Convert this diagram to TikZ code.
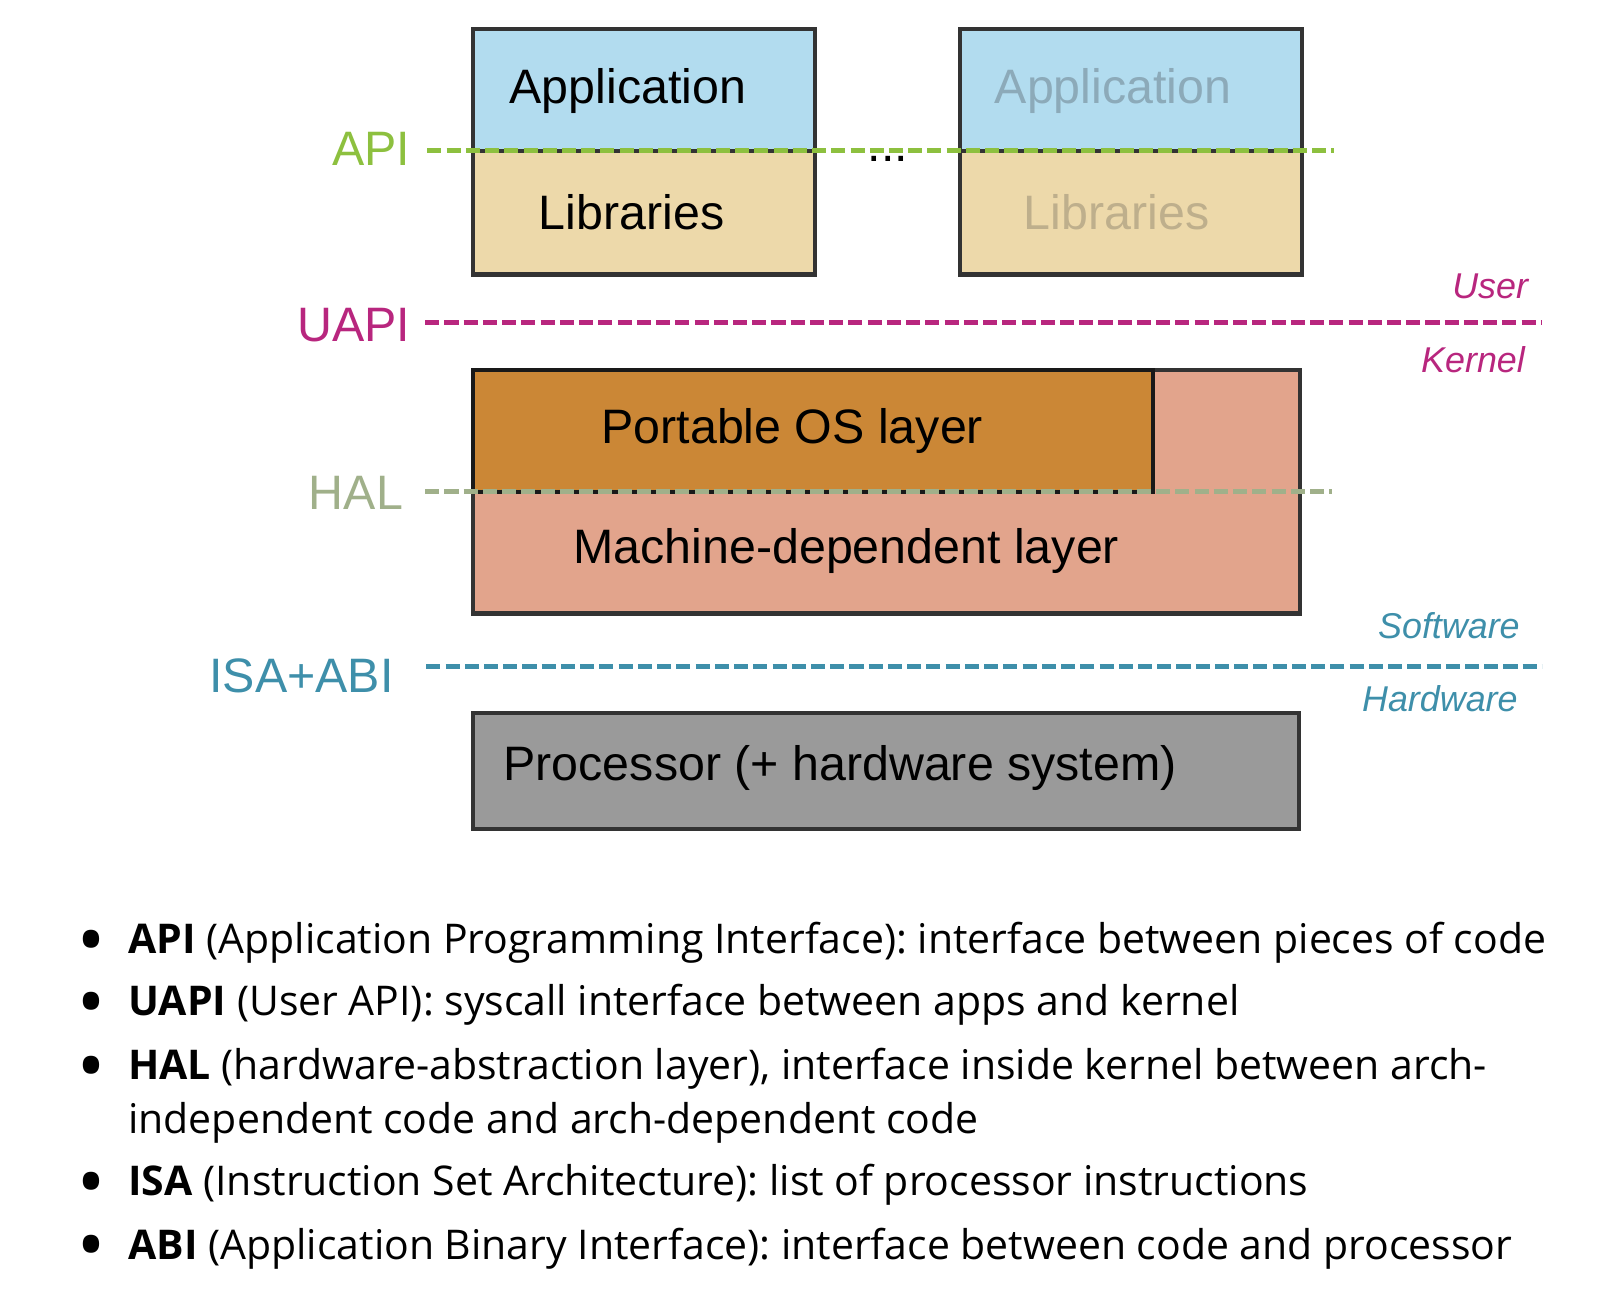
\documentclass[tikz,border=0pt]{standalone}
\usepackage{fontspec}
\setmainfont{Liberation Sans}
\newfontfamily\notefont{Open Sans}

\definecolor{appblue}{HTML}{B2DCEF}
\definecolor{libtan}{HTML}{EDD9AA}
\definecolor{appfade}{HTML}{8CAAB9}
\definecolor{libfade}{HTML}{BEAF8C}
\definecolor{osorange}{HTML}{CB8736}
\definecolor{mdsalmon}{HTML}{E2A48C}
\definecolor{cpugray}{HTML}{9A9A9A}
\definecolor{edgegray}{HTML}{333333}
\definecolor{apigreen}{HTML}{8DC03F}
\definecolor{uapimagenta}{HTML}{B8267E}
\definecolor{halsage}{HTML}{A0B08A}
\definecolor{isateal}{HTML}{3E8FAA}

\begin{document}
\frenchspacing
\begin{tikzpicture}[x=0.5pt,y=-0.5pt,
    layerbox/.style={draw=edgegray,line width=2pt},
    boxtext/.style={font=\fontsize{23.25}{28}\selectfont,inner sep=0pt,anchor=base},
    sidelabel/.style={font=\fontsize{23.25}{28}\selectfont,inner sep=0pt,anchor=base east},
    realm/.style={font=\fontsize{17.25}{20}\selectfont\itshape,inner sep=0pt,anchor=base east},
    iface/.style={line width=2.4pt,dash pattern=on 6.75pt off 2.5pt},
    note/.style={font=\notefont\fontsize{19.7}{26}\selectfont,inner sep=0pt,anchor=base west,align=left},
    notedot/.style={font=\notefont\bfseries\fontsize{28}{28}\selectfont,inner sep=0pt,anchor=center}]
    \useasboundingbox (0,0) rectangle (1560,1247);

    % Application / libraries stacks
    \draw[layerbox,fill=libtan] (455,145) rectangle (784,264);
    \draw[layerbox,fill=appblue] (455,28) rectangle (784,145);
    \draw[layerbox,fill=libtan] (923,145) rectangle (1252,264);
    \draw[layerbox,fill=appblue] (923,28) rectangle (1252,145);

    % Kernel: machine-dependent layer with the portable layer on top
    \draw[layerbox,fill=mdsalmon] (455,356) rectangle (1250,590);
    \draw[line width=2pt,draw=black!90,fill=osorange] (455,356) rectangle (1109,473);

    % Hardware
    \draw[layerbox,fill=cpugray] (455,686) rectangle (1249,797);

    % Interface lines
    \coordinate (api-w) at (411,145);  \coordinate (api-e) at (1283,145);
    \coordinate (uapi-w) at (409,310); \coordinate (uapi-e) at (1483,310);
    \coordinate (hal-w) at (409,473);  \coordinate (hal-e) at (1281,473);
    \coordinate (isa-w) at (410,641);  \coordinate (isa-e) at (1483,641);
    \draw[iface,apigreen] (api-w) -- (api-e);
    \draw[iface,uapimagenta] (uapi-w) -- (uapi-e);
    \draw[iface,halsage] (hal-w) -- (hal-e);
    \draw[iface,isateal] (isa-w) -- (isa-e);

    % Box texts
    \node[boxtext] (app1) at (604,99.5) {Application};
    \node[boxtext] (lib1) at (607.5,221) {Libraries};
    \node[boxtext,text=appfade] (app2) at (1070.5,99.5) {Application};
    \node[boxtext,text=libfade] (lib2) at (1074,221) {Libraries};
    \node[boxtext] (more) at (854,155.5) {...};
    \node[boxtext] (pos) at (762,427) {Portable OS layer};
    \node[boxtext] (mdl) at (814,541.5) {Machine-dependent layer};
    \node[boxtext] (cpu) at (808,751) {Processor (+ hardware system)};

    % Interface names
    \node[sidelabel,text=apigreen] (api) at (395,158.7) {API};
    \node[sidelabel,text=uapimagenta] (uapi) at (395,328.6) {UAPI};
    \node[sidelabel,text=halsage] (hal) at (388,490.5) {HAL};
    \node[sidelabel,text=isateal] (isa) at (379,666) {ISA+ABI};

    % Sides of each boundary
    \node[realm,text=uapimagenta] (user) at (1470,286.8) {User};
    \node[realm,text=uapimagenta] (kernel) at (1467,358) {Kernel};
    \node[realm,text=isateal] (sw) at (1462,614) {Software};
    \node[realm,text=isateal] (hw) at (1460,684.5) {Hardware};

    % Glossary
    \node[notedot] (d1) at (88,909) {•};
    \node[notedot] (d2) at (88,969) {•};
    \node[notedot] (d3) at (88,1030) {•};
    \node[notedot] (d4) at (88,1142) {•};
    \node[notedot] (d5) at (88,1203) {•};
    \node[note] (n1) at (123,917) {\textbf{API} (Application Programming Interface): interface between pieces of code};
    \node[note] (n2) at (123,977) {\textbf{UAPI} (User API): syscall interface between apps and kernel};
    \node[note] (n3) at (123,1090) {\textbf{HAL} (hardware-abstraction layer), interface inside kernel between arch-\\independent code and arch-dependent code};
    \node[note] (n4) at (123,1150) {\textbf{ISA} (Instruction Set Architecture): list of processor instructions};
    \node[note] (n5) at (123,1211) {\textbf{ABI} (Application Binary Interface): interface between code and processor};
\end{tikzpicture}
\end{document}
